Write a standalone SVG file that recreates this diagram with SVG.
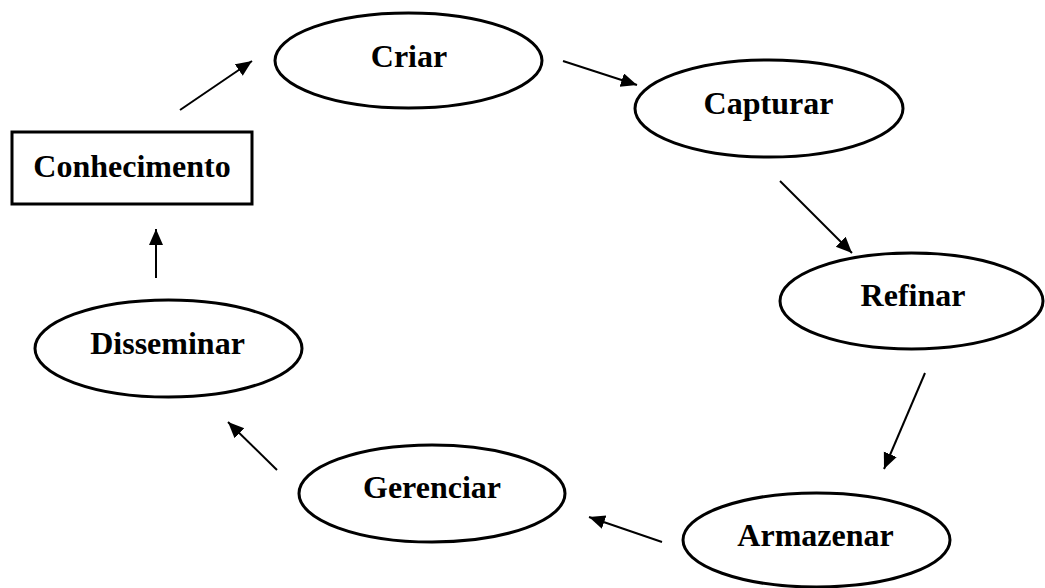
<svg xmlns="http://www.w3.org/2000/svg" width="1045" height="588" viewBox="0 0 1045 588">
<style>
.node ellipse, .node rect { fill: #fff; stroke: #000; stroke-width: 3; }
.node text { font-family: "Liberation Serif", "Times New Roman", serif; font-weight: bold; font-size: 32px; text-anchor: middle; fill: #000; }
.conn line { stroke: #000; stroke-width: 2; marker-end: url(#arrow); }
</style>
<defs>
<marker id="arrow" markerUnits="userSpaceOnUse" markerWidth="18" markerHeight="16" refX="16" refY="7" orient="auto">
<path d="M0,0 L16,7 L0,14 Z" fill="#000"/>
</marker>
</defs>
<rect width="1045" height="588" fill="#fff"/>
<g id="conhecimento" class="node">
<rect x="12" y="132" width="240" height="72"/>
<text x="132" y="177">Conhecimento</text>
</g>
<g id="criar" class="node">
<ellipse cx="408.5" cy="60.5" rx="133.5" ry="47.5"/>
<text x="409" y="67">Criar</text>
</g>
<g id="capturar" class="node">
<ellipse cx="769" cy="108.5" rx="134" ry="48.5"/>
<text x="768.5" y="114">Capturar</text>
</g>
<g id="refinar" class="node">
<ellipse cx="911.5" cy="301" rx="131.5" ry="48"/>
<text x="913" y="306">Refinar</text>
</g>
<g id="armazenar" class="node">
<ellipse cx="816.5" cy="540" rx="133.5" ry="47"/>
<text x="815.5" y="546">Armazenar</text>
</g>
<g id="gerenciar" class="node">
<ellipse cx="432" cy="493.5" rx="133" ry="48.5"/>
<text x="432" y="498">Gerenciar</text>
</g>
<g id="disseminar" class="node">
<ellipse cx="168.5" cy="348.5" rx="133.5" ry="48.5"/>
<text x="167.5" y="354">Disseminar</text>
</g>
<g id="connectors" class="conn">
<line x1="180" y1="110" x2="252" y2="61"/>
<line x1="563" y1="61" x2="637" y2="85"/>
<line x1="780" y1="181" x2="852" y2="253"/>
<line x1="925" y1="373" x2="884" y2="469"/>
<line x1="662" y1="542" x2="589" y2="517"/>
<line x1="277" y1="470" x2="228" y2="422"/>
<line x1="156" y1="278" x2="156" y2="229"/>
</g>
</svg>
